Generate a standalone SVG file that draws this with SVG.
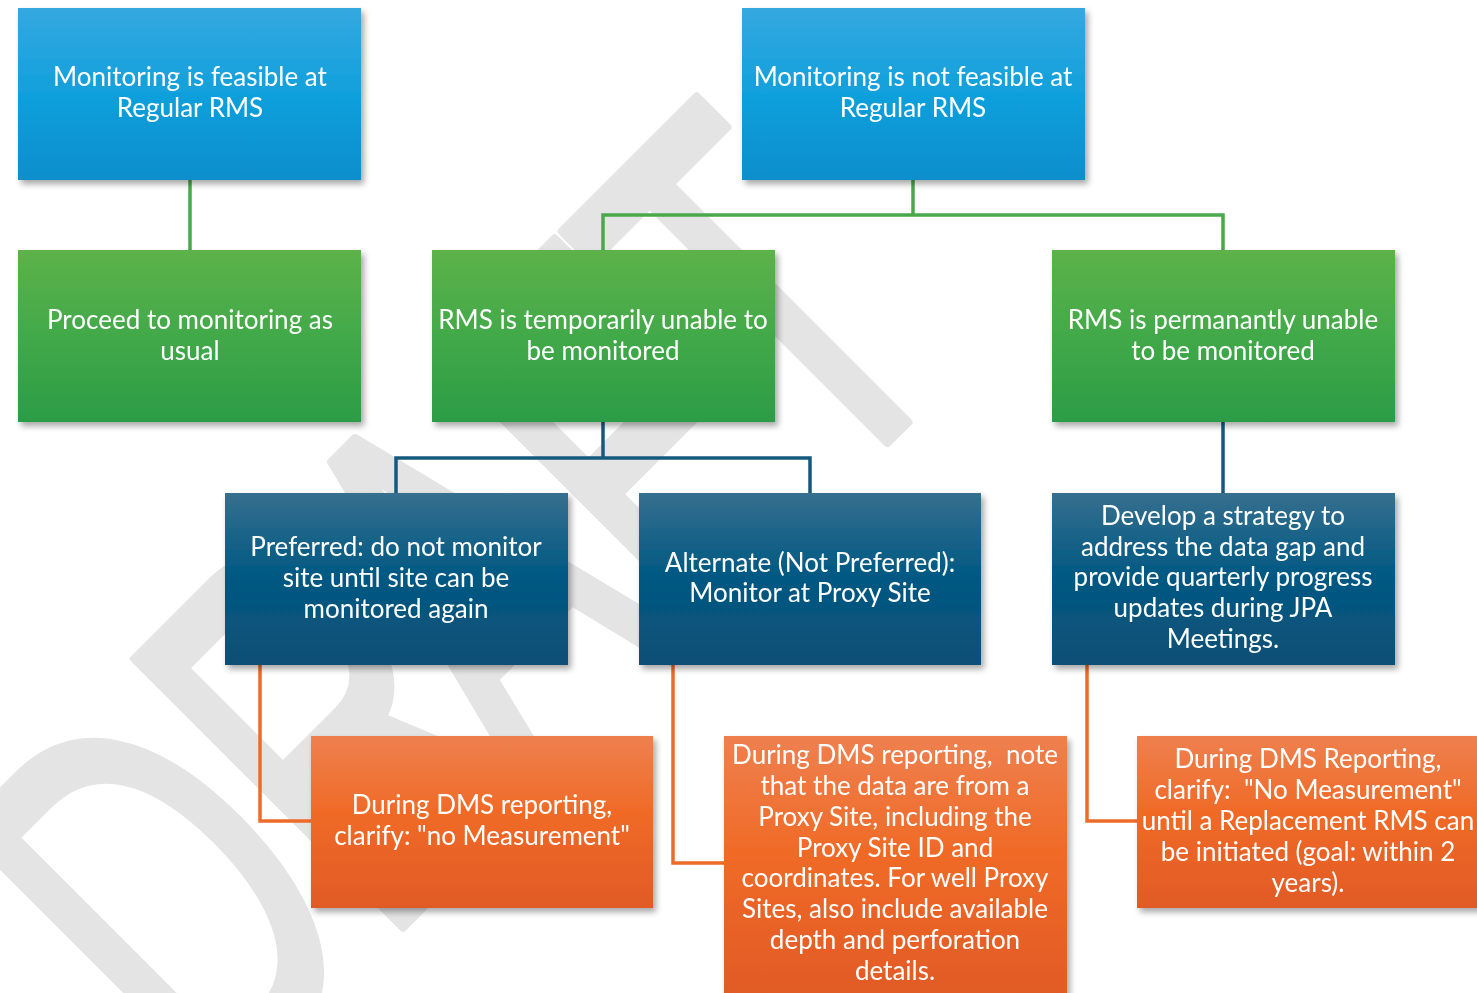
<svg xmlns="http://www.w3.org/2000/svg" width="1477" height="993" viewBox="0 0 1477 993">
<defs>
<linearGradient id="gBlue" x1="0" y1="0" x2="0" y2="1"><stop offset="0" stop-color="#35a8e0"/><stop offset="0.5" stop-color="#11a0dc"/><stop offset="1" stop-color="#0e8ecd"/></linearGradient>
<linearGradient id="gGreen" x1="0" y1="0" x2="0" y2="1"><stop offset="0" stop-color="#5db24a"/><stop offset="0.5" stop-color="#42a948"/><stop offset="1" stop-color="#2c9c46"/></linearGradient>
<linearGradient id="gNavy" x1="0" y1="0" x2="0" y2="1"><stop offset="0" stop-color="#376f8e"/><stop offset="0.45" stop-color="#035a84"/><stop offset="1" stop-color="#0b4f75"/></linearGradient>
<linearGradient id="gOrange" x1="0" y1="0" x2="0" y2="1"><stop offset="0" stop-color="#ee804f"/><stop offset="0.45" stop-color="#f06a26"/><stop offset="1" stop-color="#e15a26"/></linearGradient>
<filter id="sh" x="-10%" y="-10%" width="125%" height="130%"><feDropShadow dx="3" dy="4" stdDeviation="3" flood-color="#000" flood-opacity="0.35"/></filter>
</defs>
<style>
.t{font-family:Lato,"Open Sans","Liberation Sans",sans-serif;font-size:26px;fill:#ffffff;text-anchor:middle}
.wm{font-family:"Liberation Sans",Arial,sans-serif;font-weight:normal;font-size:550px;fill:#e4e4e4;stroke:#e4e4e4;stroke-width:8;stroke-linejoin:round;vector-effect:non-scaling-stroke}
.c{fill:none;stroke-width:3.5}
.cg{stroke:#4aa84a}
.cb{stroke:#16597f}
.co{stroke:#ee6b2a}
</style>
<rect width="1477" height="993" fill="#ffffff"/>
<g id="watermark" transform="translate(664.7,664.7) rotate(-45)">
<text class="wm" transform="translate(-640,0) scale(0.62,1)">D</text>
<text class="wm" transform="translate(-400,0) scale(0.62,1)">R</text>
<text class="wm" transform="translate(-190,0) scale(0.62,1)">A</text>
<text class="wm" transform="translate(30,0) scale(0.62,1)">F</text>
<text class="wm" transform="translate(225,0) scale(0.62,1)">T</text>
</g>
<g id="connectors">
<path class="c cg" d="M190 180 V250"/>
<path class="c cg" d="M913 180 V215 M603 250 V215 H1223 V250"/>
<path class="c cb" d="M603 422 V458 M396 493 V458 H810 V493"/>
<path class="c cb" d="M1223 422 V493"/>
<path class="c co" d="M260 665 V821 H311"/>
<path class="c co" d="M673 665 V863 H724"/>
<path class="c co" d="M1087 665 V821 H1137"/>
</g>
<g id="n1" filter="url(#sh)"><rect x="18" y="8" width="343" height="172" fill="url(#gBlue)"/>
<text class="t"><tspan x="190" y="86">Monitoring is feasible at</tspan><tspan x="190" y="117">Regular RMS</tspan></text></g>
<g id="n2" filter="url(#sh)"><rect x="742" y="8" width="343" height="172" fill="url(#gBlue)"/>
<text class="t"><tspan x="913" y="86">Monitoring is not feasible at</tspan><tspan x="913" y="117">Regular RMS</tspan></text></g>
<g id="n3" filter="url(#sh)"><rect x="18" y="250" width="343" height="172" fill="url(#gGreen)"/>
<text class="t"><tspan x="190" y="329">Proceed to monitoring as</tspan><tspan x="190" y="360">usual</tspan></text></g>
<g id="n4" filter="url(#sh)"><rect x="432" y="250" width="343" height="172" fill="url(#gGreen)"/>
<text class="t"><tspan x="603" y="329">RMS is temporarily unable to</tspan><tspan x="603" y="360">be monitored</tspan></text></g>
<g id="n5" filter="url(#sh)"><rect x="1052" y="250" width="343" height="172" fill="url(#gGreen)"/>
<text class="t"><tspan x="1223" y="329">RMS is permanantly unable</tspan><tspan x="1223" y="360">to be monitored</tspan></text></g>
<g id="n6" filter="url(#sh)"><rect x="225" y="493" width="343" height="172" fill="url(#gNavy)"/>
<text class="t"><tspan x="396" y="556">Preferred: do not monitor</tspan><tspan x="396" y="587">site until site can be</tspan><tspan x="396" y="618">monitored again</tspan></text></g>
<g id="n7" filter="url(#sh)"><rect x="639" y="493" width="342" height="172" fill="url(#gNavy)"/>
<text class="t"><tspan x="810" y="572">Alternate (Not Preferred):</tspan><tspan x="810" y="602">Monitor at Proxy Site</tspan></text></g>
<g id="n8" filter="url(#sh)"><rect x="1052" y="493" width="343" height="172" fill="url(#gNavy)"/>
<text class="t"><tspan x="1223" y="525">Develop a strategy to</tspan><tspan x="1223" y="556">address the data gap and</tspan><tspan x="1223" y="586">provide quarterly progress</tspan><tspan x="1223" y="617">updates during JPA</tspan><tspan x="1223" y="648">Meetings.</tspan></text></g>
<g id="n9" filter="url(#sh)"><rect x="311" y="736" width="342" height="172" fill="url(#gOrange)"/>
<text class="t"><tspan x="482" y="814">During DMS reporting,</tspan><tspan x="482" y="845">clarify: "no Measurement"</tspan></text></g>
<g id="n10" filter="url(#sh)"><rect x="724" y="736" width="343" height="262" fill="url(#gOrange)"/>
<text class="t"><tspan x="895" y="764">During DMS reporting,&#160; note</tspan><tspan x="895" y="795">that the data are from a</tspan><tspan x="895" y="826">Proxy Site, including the</tspan><tspan x="895" y="857">Proxy Site ID and</tspan><tspan x="895" y="887">coordinates. For well Proxy</tspan><tspan x="895" y="918">Sites, also include available</tspan><tspan x="895" y="949">depth and perforation</tspan><tspan x="895" y="980">details.</tspan></text></g>
<g id="n11" filter="url(#sh)"><rect x="1137" y="736" width="345" height="172" fill="url(#gOrange)"/>
<text class="t"><tspan x="1308" y="768">During DMS Reporting,</tspan><tspan x="1308" y="799">clarify:&#160; "No Measurement"</tspan><tspan x="1308" y="830">until a Replacement RMS can</tspan><tspan x="1308" y="861">be initiated (goal: within 2</tspan><tspan x="1308" y="892">years).</tspan></text></g>
</svg>
